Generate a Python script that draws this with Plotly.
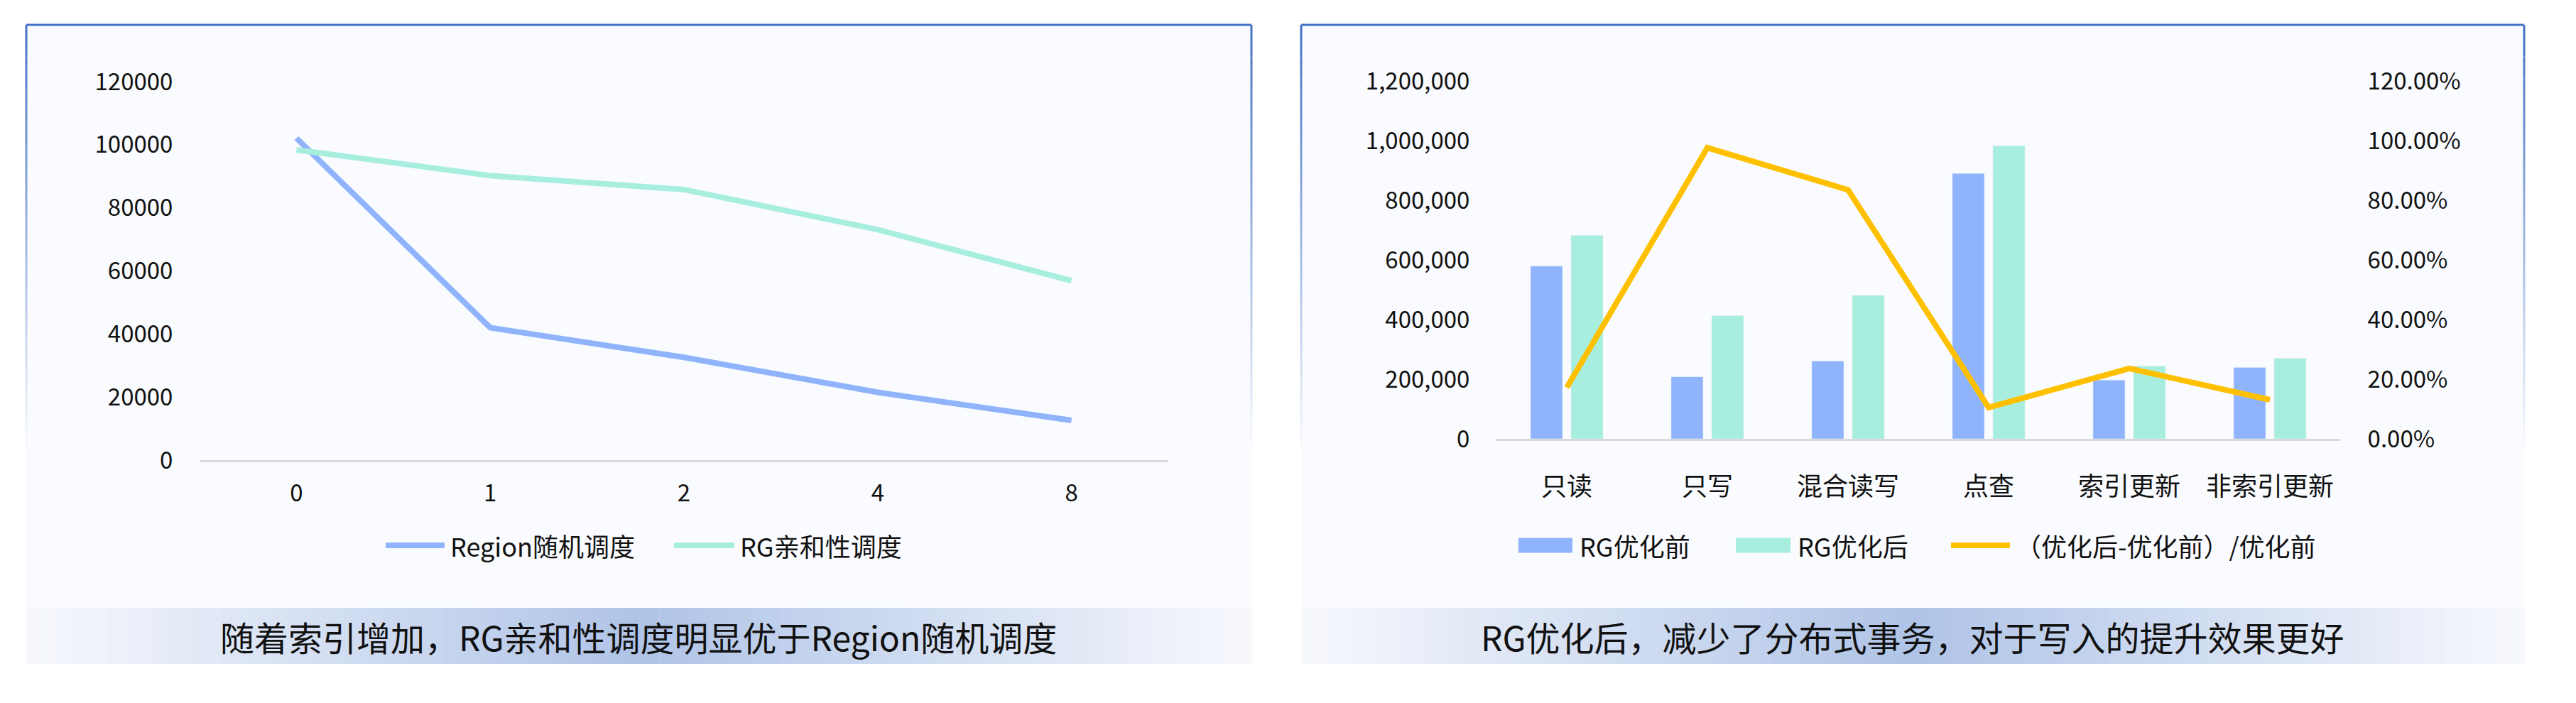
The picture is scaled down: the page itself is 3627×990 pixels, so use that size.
import plotly.graph_objects as go

W, H = 3627, 990
OFF = 8  # browser body margin
FW, FH = W - 2 * OFF, H - 2 * OFF

# left chart: throughput vs index count
idx_labels = ["0", "1", "2", "4", "8"]
region_random = [102100, 42000, 32600, 21500, 12600]
rg_affinity = [98400, 90200, 85800, 73100, 56900]

# right chart: before / after RG optimisation
workloads = ["只读", "只写", "混合读写", "点查", "索引更新", "非索引更新"]
rg_before = [579000, 208000, 261000, 890000, 197000, 239000]
rg_after = [682000, 413000, 481000, 983000, 244000, 270000]
improve = [0.172, 0.976, 0.835, 0.105, 0.236, 0.131]

caption_left = "随着索引增加，RG亲和性调度明显优于Region随机调度"
caption_right = "RG优化后，减少了分布式事务，对于写入的提升效果更好"

BLUE = "#8FB4FB"
MINT = "#A8EEDF"
GOLD = "#FFC000"
FONT = "Noto Sans CJK SC, Microsoft YaHei, sans-serif"
TXT = "#111111"


def px(x):
    return (x - OFF) / FW


def py(y):
    return 1 - (y - OFF) / FH


fig = go.Figure()

fig.add_trace(go.Scatter(x=idx_labels, y=region_random, mode="lines", name="Region随机调度",
                         line=dict(color=BLUE, width=8), xaxis="x", yaxis="y"))
fig.add_trace(go.Scatter(x=idx_labels, y=rg_affinity, mode="lines", name="RG亲和性调度",
                         line=dict(color=MINT, width=8), xaxis="x", yaxis="y"))

fig.add_trace(go.Bar(x=workloads, y=rg_before, name="RG优化前", marker_color=BLUE,
                     xaxis="x2", yaxis="y2"))
fig.add_trace(go.Bar(x=workloads, y=rg_after, name="RG优化后", marker_color=MINT,
                     xaxis="x2", yaxis="y2"))
fig.add_trace(go.Scatter(x=workloads, y=improve, mode="lines", name="（优化后-优化前）/优化前",
                         line=dict(color=GOLD, width=8), xaxis="x2", yaxis="y3"))

shapes = []
annotations = []


def panel(x0, x1, y0, y1, band0, band1):
    # light panel background
    shapes.append(dict(type="rect", xref="paper", yref="paper", layer="below",
                       x0=px(x0), x1=px(x1), y0=py(y1), y1=py(y0),
                       fillcolor="#F9FBFE", line_width=0))
    # caption band with horizontal gradient (light - blue - light)
    n = 120
    edge = (247, 249, 253)
    mid = (176, 196, 231)
    bw = (x1 - x0) / n
    for i in range(n):
        t = abs((i + 0.5) / n - 0.5) * 2
        c = tuple(int(mid[k] + (edge[k] - mid[k]) * t) for k in range(3))
        shapes.append(dict(type="rect", xref="paper", yref="paper", layer="below",
                           x0=px(x0 + i * bw), x1=px(x0 + (i + 1) * bw + 0.5),
                           y0=py(band1), y1=py(band0),
                           fillcolor="rgb(%d,%d,%d)" % c, line_width=0))
    # top border
    shapes.append(dict(type="line", xref="paper", yref="paper", layer="above",
                       x0=px(x0), x1=px(x1), y0=py(y0), y1=py(y0),
                       line=dict(color="#4472C4", width=3)))
    # side borders fading downward
    seg = 40
    fade_end = 630
    sh = (fade_end - y0) / seg
    for xs in (x0, x1):
        for i in range(seg):
            shapes.append(dict(type="line", xref="paper", yref="paper", layer="above",
                               x0=px(xs), x1=px(xs), y0=py(y0 + i * sh), y1=py(y0 + (i + 1) * sh),
                               opacity=1 - i / seg,
                               line=dict(color="#4472C4", width=3)))


panel(37, 1762, 35, 934, 856, 935)
panel(1832, 3554, 35, 934, 856, 935)


def legend_line(x0, x1, y, color, text):
    shapes.append(dict(type="line", xref="paper", yref="paper",
                       x0=px(x0), x1=px(x1), y0=py(y), y1=py(y),
                       line=dict(color=color, width=8)))
    annotations.append(dict(xref="paper", yref="paper", x=px(x1 + 6), y=py(y), text=text,
                            showarrow=False, xanchor="left", yanchor="middle",
                            font=dict(family=FONT, size=36, color=TXT)))


def legend_box(x0, x1, y, color, text):
    shapes.append(dict(type="rect", xref="paper", yref="paper",
                       x0=px(x0), x1=px(x1), y0=py(y + 10.5), y1=py(y - 10.5),
                       fillcolor=color, line_width=0))
    annotations.append(dict(xref="paper", yref="paper", x=px(x1 + 8), y=py(y), text=text,
                            showarrow=False, xanchor="left", yanchor="middle",
                            font=dict(family=FONT, size=36, color=TXT)))


legend_line(543, 626, 768, BLUE, "Region随机调度")
legend_line(949, 1034, 768, MINT, "RG亲和性调度")
legend_box(2138, 2214, 768, BLUE, "RG优化前")
legend_box(2444, 2521, 768, MINT, "RG优化后")
legend_line(2747, 2830, 768, GOLD, "（优化后-优化前）/优化前")

for cx, txt in ((899, caption_left), (2693, caption_right)):
    annotations.append(dict(xref="paper", yref="paper", x=px(cx), y=py(896), text=txt,
                            showarrow=False, xanchor="center", yanchor="middle",
                            font=dict(family=FONT, size=48, color=TXT)))

num_font = dict(family=FONT, size=33, color=TXT)
cat_font = dict(family=FONT, size=36, color=TXT)

fig.update_layout(
    width=FW, height=FH, autosize=False,
    margin=dict(l=0, r=0, t=0, b=0),
    paper_bgcolor="white", plot_bgcolor="rgba(0,0,0,0)",
    showlegend=False,
    barmode="group", bargap=0.424, bargroupgap=0.21,
    shapes=shapes, annotations=annotations,
    xaxis=dict(domain=[px(281), px(1645)], anchor="y", type="category",
               range=[-0.5, 4.5], showgrid=False, zeroline=False,
               showline=True, linecolor="#D9D9D9", linewidth=2.5,
               ticks="outside", ticklen=16, tickcolor="rgba(0,0,0,0)",
               tickfont=num_font, automargin=False),
    yaxis=dict(domain=[py(648), py(115)], anchor="x", range=[0, 120000], dtick=20000,
               tickformat="d", showgrid=False, zeroline=False, showline=False,
               ticks="outside", ticklen=30, tickcolor="rgba(0,0,0,0)",
               tickfont=num_font, automargin=False),
    xaxis2=dict(domain=[px(2107), px(3295)], anchor="y2", type="category",
                range=[-0.5, 5.5], showgrid=False, zeroline=False,
                showline=True, linecolor="#D9D9D9", linewidth=2.5,
                ticks="outside", ticklen=34, tickcolor="rgba(0,0,0,0)",
                tickfont=cat_font, automargin=False),
    yaxis2=dict(domain=[py(618), py(114)], anchor="x2", range=[0, 1200000], dtick=200000,
                tickformat=",", showgrid=False, zeroline=False, showline=False,
                ticks="outside", ticklen=30, tickcolor="rgba(0,0,0,0)",
                tickfont=num_font, automargin=False),
    yaxis3=dict(domain=[py(618), py(114)], anchor="x2", overlaying="y2", side="right",
                range=[0, 1.2], dtick=0.2, tickformat=".2%",
                showgrid=False, zeroline=False, showline=False,
                ticks="outside", ticklen=31, tickcolor="rgba(0,0,0,0)",
                tickfont=num_font, automargin=False),
)

fig.write_html("out.html")
